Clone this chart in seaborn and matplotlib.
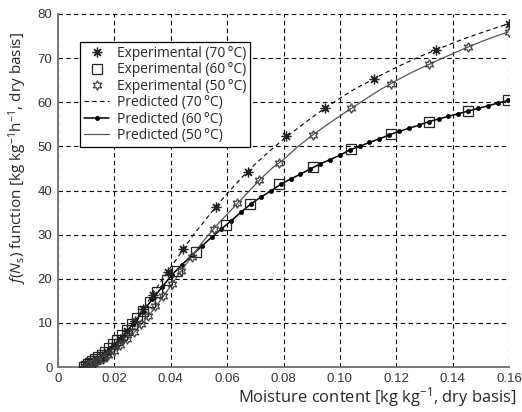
import matplotlib
matplotlib.use("Agg")
import matplotlib.pyplot as plt
import seaborn as sns
import pandas as pd

# ---------------- data ----------------
exp70_x = [0.0092, 0.0105, 0.012, 0.0137, 0.0155, 0.0175, 0.0197, 0.022, 0.0245, 0.0272,
           0.0302, 0.0336, 0.0391, 0.0444, 0.0559, 0.0673, 0.0809, 0.0949, 0.112, 0.134, 0.160]
exp70_y = [0.1, 0.5, 1.0, 1.7, 2.5, 3.5, 4.8, 6.3, 8.2, 10.4,
           13.1, 16.4, 21.5, 26.8, 36.3, 44.1, 52.3, 58.8, 65.2, 71.8, 77.7]

exp60_x = [0.0092, 0.0098, 0.0105, 0.0113, 0.0122, 0.0132, 0.0143, 0.0155, 0.0168, 0.0182,
           0.0196, 0.0211, 0.0227, 0.0244, 0.0262, 0.0281, 0.0302, 0.0325, 0.0352, 0.0385,
           0.0422, 0.0488, 0.0596, 0.0681, 0.0785, 0.0905, 0.1040, 0.1183, 0.1317, 0.1455, 0.1597]
exp60_y = [0.1, 0.3, 0.6, 0.9, 1.3, 1.7, 2.2, 2.8, 3.5, 4.3,
           5.1, 6.1, 7.2, 8.4, 9.7, 11.1, 12.8, 14.7, 17.1, 19.8,
           21.8, 26.1, 32.1, 36.9, 41.4, 45.4, 49.4, 52.9, 55.6, 58.0, 60.5]

exp50_x = [0.0095, 0.0108, 0.0123, 0.014, 0.0158, 0.0178, 0.0199, 0.0221, 0.0244, 0.0268,
           0.0293, 0.0318, 0.0345, 0.0374, 0.0405, 0.0437, 0.0475, 0.0554, 0.0636, 0.0713,
           0.0785, 0.0903, 0.1038, 0.118, 0.1317, 0.1455, 0.160]
exp50_y = [0.1, 0.4, 0.8, 1.3, 1.9, 2.7, 3.7, 4.9, 6.3, 7.9,
           9.7, 11.6, 13.8, 16.2, 18.9, 21.7, 25.0, 31.2, 37.2, 42.3,
           46.3, 52.6, 58.7, 64.1, 68.6, 72.6, 76.0]

pred70_x = [0.009, 0.012, 0.015, 0.018, 0.021, 0.024, 0.027, 0.030, 0.033, 0.036,
            0.039, 0.042, 0.045, 0.048, 0.052, 0.056, 0.060, 0.065, 0.070, 0.075,
            0.080, 0.085, 0.090, 0.095, 0.100, 0.105, 0.110, 0.115, 0.120, 0.125,
            0.130, 0.135, 0.140, 0.145, 0.150, 0.155, 0.160]
pred70_y = [0.0, 1.0, 2.3, 3.8, 5.6, 7.8, 10.1, 12.9, 15.9, 18.9,
            21.7, 24.4, 27.2, 29.9, 33.1, 36.3, 39.3, 42.8, 46.0, 48.9,
            51.6, 54.1, 56.5, 58.8, 60.9, 62.9, 64.6, 66.3, 67.9, 69.4,
            70.8, 72.1, 73.4, 74.6, 75.7, 76.8, 77.8]

pred60_x = [0.009, 0.0125, 0.016, 0.0195, 0.023, 0.0265, 0.030, 0.0335, 0.037, 0.0405,
            0.044, 0.0475, 0.051, 0.0545, 0.058, 0.0615, 0.065, 0.0685, 0.072, 0.0755,
            0.079, 0.0825, 0.086, 0.0895, 0.093, 0.0965, 0.100, 0.1035, 0.107, 0.1105,
            0.114, 0.1175, 0.121, 0.1245, 0.128, 0.1315, 0.135, 0.1385, 0.142, 0.1455,
            0.149, 0.1525, 0.156, 0.1595]
pred60_y = [0.1, 1.0, 2.8, 4.8, 7.1, 9.7, 12.5, 15.4, 18.2, 20.9,
            23.2, 25.3, 27.4, 29.4, 31.3, 33.2, 35.1, 37.0, 38.5, 39.9,
            41.4, 42.6, 43.7, 44.9, 46.0, 47.0, 48.0, 49.2, 50.0, 50.9,
            51.7, 52.6, 53.4, 54.1, 54.8, 55.6, 56.2, 56.8, 57.4, 58.0,
            58.6, 59.2, 59.8, 60.4]

pred50_x = [0.009, 0.012, 0.015, 0.018, 0.021, 0.024, 0.027, 0.030, 0.033, 0.036,
            0.039, 0.042, 0.045, 0.048, 0.051, 0.054, 0.057, 0.060, 0.064, 0.068,
            0.072, 0.076, 0.080, 0.085, 0.090, 0.095, 0.100, 0.105, 0.110, 0.115,
            0.120, 0.125, 0.130, 0.135, 0.140, 0.145, 0.150, 0.155, 0.160]
pred50_y = [0.0, 0.6, 1.5, 2.6, 4.1, 5.8, 7.8, 10.0, 12.3, 14.8,
            17.5, 20.2, 22.9, 25.5, 28.1, 30.4, 32.6, 34.6, 37.3, 40.0,
            42.7, 45.1, 47.0, 49.9, 52.4, 54.7, 56.9, 59.0, 61.1, 63.1,
            64.9, 66.6, 68.1, 69.6, 71.0, 72.4, 73.7, 74.9, 76.0]

x_ticks = [0, 0.02, 0.04, 0.06, 0.08, 0.10, 0.12, 0.14, 0.16]
x_tick_labels = ["0", "0.02", "0.04", "0.06", "0.08", "0.10", "0.12", "0.14", "0.16"]
y_ticks = [0, 10, 20, 30, 40, 50, 60, 70, 80]

labels = ["Experimental (70\u2009°C)", "Experimental (60\u2009°C)", "Experimental (50\u2009°C)",
          "Predicted (70\u2009°C)", "Predicted (60\u2009°C)", "Predicted (50\u2009°C)"]

# ---------------- style ----------------
sns.set_style("white")
plt.rcParams["font.family"] = ["Open Sans", "DejaVu Sans"]
plt.rcParams["mathtext.fontset"] = "custom"
plt.rcParams["mathtext.rm"] = "Open Sans"
plt.rcParams["mathtext.it"] = "Open Sans:italic"
plt.rcParams["mathtext.bf"] = "Open Sans:bold"

fig = plt.figure(figsize=(5.22, 4.12), dpi=100)
ax = fig.add_axes([58 / 522, 1 - 367 / 412, 451 / 522, 353 / 412])

common = dict(estimator=None, sort=False, errorbar=None, ax=ax)

# predicted curves
sns.lineplot(x=pred70_x, y=pred70_y, color="k", lw=0.8, linestyle=(0, (4, 3)),
             label=labels[3], zorder=3, **common)
sns.lineplot(x=pred60_x, y=pred60_y, color="k", lw=1.1, marker="o", markersize=3.0,
             markeredgecolor="k", markerfacecolor="k", markeredgewidth=0.5,
             label=labels[4], zorder=3, **common)
sns.lineplot(x=pred50_x, y=pred50_y, color="#555555", lw=0.9,
             label=labels[5], zorder=3, **common)

# experimental points
sns.lineplot(x=exp70_x, y=exp70_y, color="k", linestyle="none", marker=(8, 2, 0),
             markersize=7, markeredgecolor="#222222", markeredgewidth=0.9,
             label=labels[0], zorder=4, **common)
sns.lineplot(x=exp60_x, y=exp60_y, color="k", linestyle="none", marker="s",
             markersize=6.5, markeredgecolor="#222222", markerfacecolor="none",
             markeredgewidth=0.9, label=labels[1], zorder=4, **common)
sns.lineplot(x=exp50_x, y=exp50_y, color="#444444", linestyle="none", marker=(6, 1, 0),
             markersize=7, markeredgecolor="#444444", markerfacecolor="none",
             markeredgewidth=0.9, label=labels[2], zorder=4, **common)

ax.set_xlim(0, 0.16)
ax.set_ylim(0, 80)
ax.set_xticks(x_ticks)
ax.set_xticklabels(x_tick_labels)
ax.set_yticks(y_ticks)

for lab in ax.get_xticklabels() + ax.get_yticklabels():
    lab.set_fontfamily(["Liberation Sans", "DejaVu Sans"])
    lab.set_fontsize(9.5)
    lab.set_color("#333333")

ax.tick_params(axis="both", direction="in", length=4, width=1, color="#555555", pad=4)
ax.grid(True, color="k", linestyle=(0, (4, 3)), linewidth=0.8)
ax.set_axisbelow(True)

for s in ["top", "right"]:
    ax.spines[s].set_visible(False)
for s in ["left", "bottom"]:
    ax.spines[s].set_color("#777777")
    ax.spines[s].set_linewidth(1.4)

ax.set_xlabel("Moisture content [kg kg$^{-1}$, dry basis]", fontsize=11.9, loc="right",
              labelpad=3)
ax.xaxis.set_label_coords(1.017, -0.05)
ax.set_ylabel("$f$($N_\\mathrm{s}$) function [kg kg$^{-1}$h$^{-1}$, dry basis]", fontsize=11,
              loc="top", labelpad=6)
ax.yaxis.set_label_coords(-0.065, 0.949)

handles, labs = ax.get_legend_handles_labels()
order = [labs.index(l) for l in labels]
leg = ax.legend([handles[i] for i in order], [labs[i] for i in order],
                loc="upper left", bbox_to_anchor=(0.049, 0.921), borderaxespad=0,
                fontsize=9.9, frameon=True, fancybox=False, framealpha=1,
                edgecolor="k", handlelength=1.8, handletextpad=0.55,
                labelspacing=0.1, borderpad=0.3)
leg.get_frame().set_linewidth(0.9)
leg.set_zorder(10)

fig.savefig("out.png", dpi=100)
